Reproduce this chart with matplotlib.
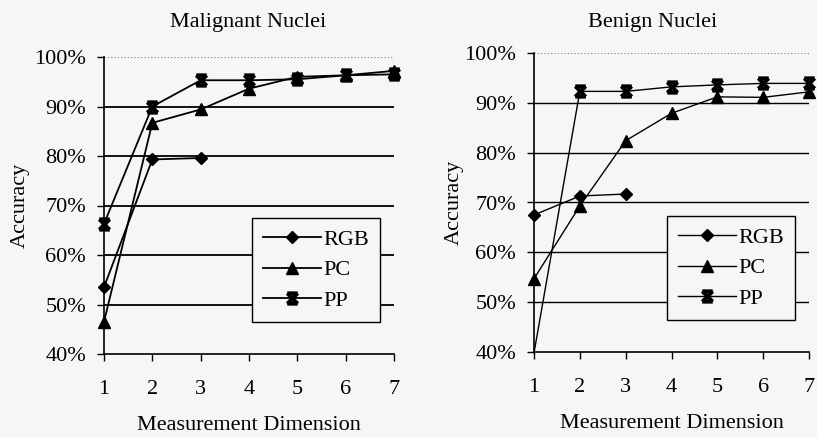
import numpy as np
import matplotlib.pyplot as plt
from matplotlib.path import Path
from matplotlib.ticker import PercentFormatter

dims = [1, 2, 3, 4, 5, 6, 7]

# Malignant nuclei accuracy (%)
mal_rgb = [53.5, 79.3, 79.6]
mal_pc = [46.5, 86.7, 89.4, 93.6, 96.0, 96.3, 97.2]
mal_pp = [66.3, 90.0, 95.3, 95.3, 95.5, 96.3, 96.5]

# Benign nuclei accuracy (%)
ben_rgb = [67.5, 71.3, 71.7]
ben_pc = [54.7, 69.3, 82.4, 87.9, 91.2, 91.1, 92.2]
ben_pp = [39.8, 92.3, 92.3, 93.2, 93.6, 93.9, 93.9]

yticks = [40, 50, 60, 70, 80, 90, 100]

plt.rcParams['font.family'] = ['Liberation Serif', 'DejaVu Serif']
bg = '#f6f6f6'

# hourglass-like star marker
star = Path([(-1, -1), (1, 1), (-1, 1), (1, -1), (-1, 1), (1, 1), (-1, -1), (1, -1)],
            [Path.MOVETO, Path.LINETO, Path.MOVETO, Path.LINETO,
             Path.MOVETO, Path.LINETO, Path.MOVETO, Path.LINETO])

fig = plt.figure(figsize=(8.17, 4.38), dpi=100, facecolor=bg)
W, H = 817, 438
boxes = [(104, 57, 394, 354), (534, 53, 809, 352)]
panels = [
    ('Malignant Nuclei', mal_rgb, mal_pc, mal_pp, 1.3, 248, 3, None),
    ('Benign Nuclei', ben_rgb, ben_pc, ben_pp, 1.0, 653, 0, range(1, 7)),
]

for (x0, y0, x1, y1), (title, rgb, pc, pp, lw, tx, ypad, pp_marks) in zip(boxes, panels):
    ax = fig.add_axes([x0 / W, 1 - y1 / H, (x1 - x0) / W, (y1 - y0) / H])
    ax.set_facecolor(bg)
    for y in yticks[1:-1]:
        ax.axhline(y, color='black', lw=lw, zorder=1)
    ax.axhline(100, color='#777777', lw=0.8, ls=(0, (1, 2)), zorder=1)

    ax.plot(dims[:len(rgb)], rgb, color='black', lw=lw, marker='D', ms=6.5,
            label='RGB', zorder=3, clip_on=False)
    ax.plot(dims, pc, color='black', lw=lw, marker='^', ms=8.5,
            label='PC', zorder=3, clip_on=False)
    ax.plot(dims, pp, color='black', lw=lw, marker=star, ms=7.5, mew=2.8,
            markevery=pp_marks, label='PP', zorder=3, clip_on=False)

    ax.set_xlim(1, 7)
    ax.set_ylim(40, 100)
    ax.set_xticks(dims)
    ax.set_yticks(yticks)
    ax.yaxis.set_major_formatter(PercentFormatter(decimals=0))
    ax.tick_params(labelsize=16, length=5, width=1, direction='out')
    ax.tick_params(axis='y', pad=8)
    ax.tick_params(axis='x', pad=14)
    for s in ['top', 'right']:
        ax.spines[s].set_visible(False)
    ax.spines['left'].set_linewidth(1.2)
    ax.spines['bottom'].set_linewidth(1.2)
    ax.axvline(7, color='#777777', lw=0.8, ls=(0, (1, 2)), zorder=1)

    fig.text(tx / W, 1 - 23 / H, title, fontsize=16, ha='center', va='center')
    ax.set_xlabel('Measurement Dimension', fontsize=16, labelpad=12)
    ax.set_ylabel('Accuracy', fontsize=16, labelpad=ypad)

    leg = ax.legend(loc='lower right', bbox_to_anchor=(0.99, 0.07), fontsize=16,
                    frameon=True, fancybox=False, handlelength=2.6,
                    handletextpad=0.1, borderpad=0.5, labelspacing=0.45,
                    facecolor=bg, framealpha=1)
    leg.get_frame().set_edgecolor('black')
    leg.get_frame().set_linewidth(1.0)

fig.savefig('out.png', dpi=100, facecolor=bg)
